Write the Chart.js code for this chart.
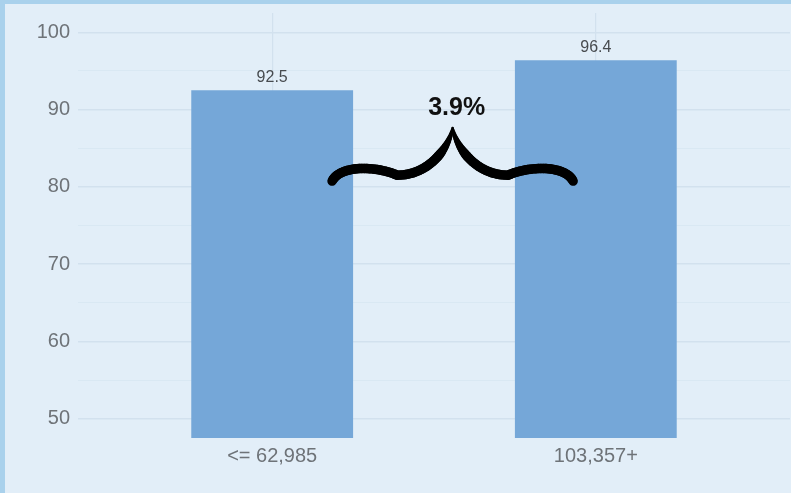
<!DOCTYPE html>
<html>
<head>
<meta charset="utf-8">
<script src="https://cdn.jsdelivr.net/npm/chart.js@4.4.1/dist/chart.umd.min.js"></script>
<style>
  html, body { margin: 0; padding: 0; background: #e2eef8; }
  #wrap { width: 791px; height: 493px; position: relative; }
</style>
</head>
<body>
<div id="wrap"><canvas id="c" width="791" height="493"></canvas></div>
<script>
// ---- data ----
const categories = ['<= 62,985', '103,357+'];
const values = [92.5, 96.4];
const yMajorTicks = [50, 60, 70, 80, 90, 100];
const yMinorTicks = [55, 65, 75, 85, 95];
const gapLabel = '3.9%';
// brace annotation, in data units
const braceX = [1.185, 1.93];
const braceY = [80.75, 87.6];   // ends level, tip level
const braceLabelPos = [1.57, 90.2];

const BG = '#e2eef8';
const FRAME = '#a9d1ec';
const BAR = '#75a7d8';
const GRID_MAJOR = '#d2e1ee';
const GRID_MINOR = '#d8e6f2';
const TICK_COLOR = '#6e7378';
const FONT = '"Liberation Sans", Arial, sans-serif';

const bgPlugin = {
  id: 'bg',
  beforeDraw(chart) {
    const ctx = chart.ctx;
    ctx.save();
    ctx.fillStyle = BG;
    ctx.fillRect(0, 0, chart.width, chart.height);
    ctx.fillStyle = FRAME;
    ctx.fillRect(0, 0, chart.width, 4);
    ctx.fillRect(0, 0, 5, chart.height);
    ctx.restore();
  }
};

const labelPlugin = {
  id: 'valueLabels',
  afterDatasetsDraw(chart) {
    const ctx = chart.ctx;
    const meta = chart.getDatasetMeta(0);
    ctx.save();
    ctx.font = '16px ' + FONT;
    ctx.fillStyle = '#474b4f';
    ctx.textAlign = 'center';
    ctx.textBaseline = 'middle';
    meta.data.forEach((bar, i) => {
      ctx.fillText(values[i].toFixed(1), bar.x, bar.y - 13);
    });
    ctx.restore();
  }
};

function bez(p0, p1, p2, p3, t) {
  const m = 1 - t;
  return [
    m*m*m*p0[0] + 3*m*m*t*p1[0] + 3*m*t*t*p2[0] + t*t*t*p3[0],
    m*m*m*p0[1] + 3*m*m*t*p1[1] + 3*m*t*t*p2[1] + t*t*t*p3[1]
  ];
}

const bracePlugin = {
  id: 'brace',
  afterDatasetsDraw(chart) {
    const xs = chart.scales.x, ys = chart.scales.y;
    const xL = xs.getPixelForValue(braceX[0]);
    const xR = xs.getPixelForValue(braceX[1]);
    const yB = ys.getPixelForValue(braceY[0]);
    const yT = ys.getPixelForValue(braceY[1]);
    // normalized shape of the left half (end -> tip)
    const segs = [
      [[0, 0], [0.033, 0.296], [0.178, 0.296], [0.27, 0.111]],
      [[0.27, 0.111], [0.398, 0.111], [0.481, 0.593], [0.5, 1.0]]
    ];
    const toPx = (u, v, mirror) => [
      xL + (mirror ? 1 - u : u) * (xR - xL),
      yB - v * (yB - yT)
    ];
    const ctx = chart.ctx;
    ctx.save();
    ctx.strokeStyle = '#000';
    ctx.lineCap = 'round';
    [false, true].forEach(mirror => {
      const pts = [];
      segs.forEach((s, k) => {
        const N = 30;
        for (let i = (k === 0 ? 0 : 1); i <= N; i++) {
          const p = bez(s[0], s[1], s[2], s[3], i / N);
          pts.push(toPx(p[0], p[1], mirror));
        }
      });
      const n = pts.length;
      for (let i = 1; i < n; i++) {
        const t = i / (n - 1);
        const w = t < 0.8 ? 9.5 : 9.5 - 7 * ((t - 0.8) / 0.2);
        ctx.lineWidth = w;
        ctx.beginPath();
        ctx.moveTo(pts[i - 1][0], pts[i - 1][1]);
        ctx.lineTo(pts[i][0], pts[i][1]);
        ctx.stroke();
      }
    });
    ctx.font = 'bold 25px ' + FONT;
    ctx.fillStyle = '#111';
    ctx.textAlign = 'center';
    ctx.textBaseline = 'middle';
    ctx.fillText(gapLabel, xs.getPixelForValue(braceLabelPos[0]), ys.getPixelForValue(braceLabelPos[1]));
    ctx.restore();
  }
};

new Chart(document.getElementById('c'), {
  type: 'bar',
  data: {
    datasets: [{
      data: values.map((v, i) => ({ x: i + 1, y: v })),
      backgroundColor: BAR,
      borderWidth: 0,
      barPercentage: 0.5,
      categoryPercentage: 1.0
    }]
  },
  options: {
    responsive: false,
    animation: false,
    events: [],
    layout: { padding: { top: 13, right: 1, left: 0, bottom: 0 } },
    plugins: { legend: { display: false }, tooltip: { enabled: false } },
    scales: {
      x: {
        type: 'linear',
        min: 0.4,
        max: 2.6,
        offset: false,
        afterBuildTicks(scale) { scale.ticks = categories.map((c, i) => ({ value: i + 1 })); },
        afterFit(scale) { scale.height = 55; },
        border: { display: false },
        grid: { color: GRID_MAJOR, lineWidth: 1.2, drawTicks: false, offset: false },
        ticks: {
          padding: 6,
          color: TICK_COLOR,
          font: { family: FONT, size: 20 },
          maxRotation: 0,
          autoSkip: false,
          callback: (v) => categories[v - 1]
        }
      },
      y: {
        min: 47.5,
        max: 102.5,
        afterBuildTicks(scale) {
          scale.ticks = [...yMajorTicks, ...yMinorTicks].sort((a, b) => a - b).map(v => ({ value: v }));
        },
        afterFit(scale) { scale.width = 78; },
        border: { display: false },
        grid: {
          drawTicks: false,
          color: (c) => yMajorTicks.includes(c.tick.value) ? GRID_MAJOR : GRID_MINOR,
          lineWidth: (c) => yMajorTicks.includes(c.tick.value) ? 1.4 : 0.9
        },
        ticks: {
          padding: 8,
          color: TICK_COLOR,
          font: { family: FONT, size: 20, lineHeight: 0.5 },
          autoSkip: false,
          callback: (v) => yMajorTicks.includes(v) ? String(v) : ''
        }
      }
    }
  },
  plugins: [bgPlugin, labelPlugin, bracePlugin]
});
</script>
</body>
</html>
